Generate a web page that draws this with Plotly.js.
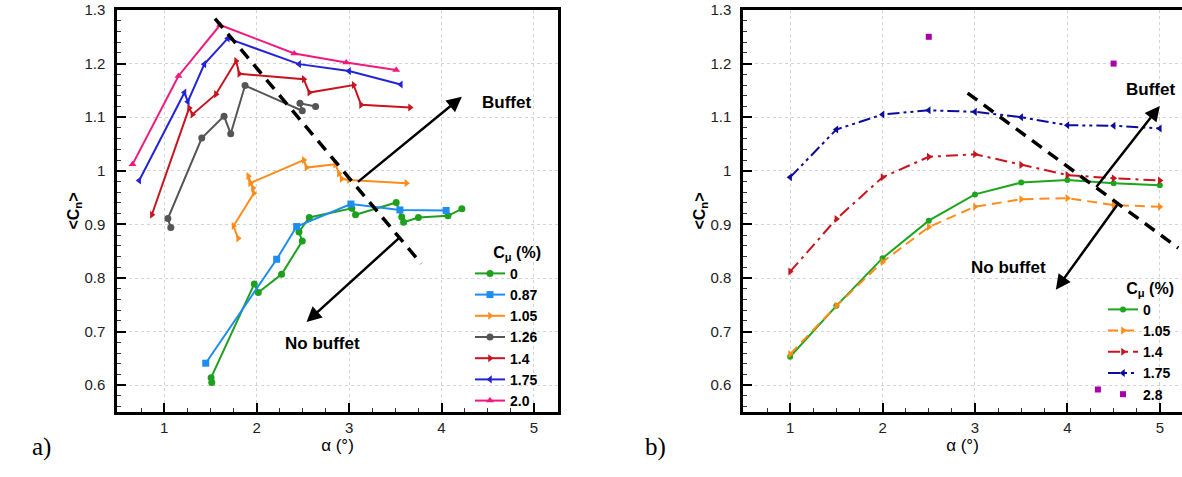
<!DOCTYPE html>
<html><head><meta charset="utf-8">
<script src="https://cdn.plot.ly/plotly-3.0.1.min.js"></script>
<style>html,body{margin:0;padding:0;background:#fff}</style>
</head><body><div id="chart" style="width:1182px;height:477px"></div>
<script>
// ---------- Panel a) ----------
const cmuA = ['0', '0.87', '1.05', '1.26', '1.4', '1.75', '2.0'];
const a0x   = [1.515, 1.508, 1.975, 2.018, 2.27, 2.494, 2.458, 2.57, 3.03, 3.07, 3.51, 3.57, 3.59, 3.75, 4.07, 4.22];
const a0y   = [0.605, 0.614, 0.789, 0.773, 0.807, 0.869, 0.886, 0.913, 0.930, 0.918, 0.941, 0.914, 0.904, 0.913, 0.916, 0.929];
const a087x = [1.45, 2.217, 2.433, 3.02, 3.55, 4.05];
const a087y = [0.641, 0.835, 0.896, 0.938, 0.927, 0.926];
const a105x = [1.80, 1.75, 1.97, 1.96, 1.91, 1.93, 2.51, 2.54, 2.85, 2.89, 2.92, 3.00, 3.62];
const a105y = [0.874, 0.897, 0.958, 0.968, 0.990, 0.977, 1.020, 1.006, 1.012, 0.995, 0.985, 0.983, 0.977];
const a126x = [1.072, 1.04, 1.407, 1.648, 1.72, 1.875, 2.494, 2.469, 2.638];
const a126y = [0.894, 0.911, 1.061, 1.102, 1.069, 1.159, 1.112, 1.126, 1.120];
const a14x  = [0.867, 1.27, 1.306, 1.56, 1.778, 1.813, 2.51, 2.57, 3.05, 3.13, 3.66];
const a14y  = [0.918, 1.117, 1.105, 1.143, 1.205, 1.181, 1.171, 1.146, 1.160, 1.123, 1.118];
const a175x = [0.73, 1.22, 1.256, 1.435, 1.688, 2.46, 3.00, 3.56];
const a175y = [0.982, 1.146, 1.129, 1.199, 1.247, 1.199, 1.186, 1.161];
const a20x  = [0.658, 1.155, 1.605, 2.407, 2.97, 3.51];
const a20y  = [1.012, 1.177, 1.272, 1.219, 1.202, 1.188];
const boundAx = [1.55, 3.78];
const boundAy = [1.284, 0.827];

// ---------- Panel b) ----------
const cmuB = ['0', '1.05', '1.4', '1.75', '2.8'];
const alphaB = [1, 1.5, 2, 2.5, 3, 3.5, 4, 4.5, 5];
const b0y   = [0.653, 0.748, 0.837, 0.907, 0.956, 0.978, 0.983, 0.977, 0.973];
const b105y = [0.658, 0.748, 0.830, 0.895, 0.933, 0.947, 0.949, 0.936, 0.933];
const b14y  = [0.812, 0.910, 0.988, 1.026, 1.031, 1.011, 0.992, 0.986, 0.982];
const b175y = [0.988, 1.077, 1.105, 1.113, 1.110, 1.100, 1.085, 1.084, 1.079];
const b28x  = [2.5, 4.5, 4.33];
const b28y  = [1.25, 1.20, 0.592];
const boundBx = [2.92, 5.2];
const boundBy = [1.145, 0.856];

const FONT = 'Liberation Sans, Arial, Helvetica, sans-serif';
const C = {g:'#1ea01e', lb:'#1e8cf0', o:'#ff8c1a', gr:'#555555', r:'#c8141e', b:'#2323d8', p:'#f0197d',
           bg:'#1ea51e', bo:'#ff8c1a', br:'#c8141e', bb:'#0c0c9c', pu:'#a800a8'};

function ser(x, y, name, color, sym, xa, ya, leg, dash, msize) {
  return {x:x, y:y, name:name, type:'scatter', mode:'lines+markers', xaxis:xa, yaxis:ya, legend:leg,
    line:{color:color, width:2, dash:dash || 'solid'},
    marker:{color:color, symbol:sym, size:msize || 7}, hoverinfo:'x+y'};
}

const traces = [
  ser(a0x, a0y, cmuA[0], C.g, 'circle', 'x', 'y', 'legend'),
  ser(a087x, a087y, cmuA[1], C.lb, 'square', 'x', 'y', 'legend'),
  ser(a105x, a105y, cmuA[2], C.o, 'triangle-right', 'x', 'y', 'legend'),
  ser(a126x, a126y, cmuA[3], C.gr, 'circle', 'x', 'y', 'legend'),
  ser(a14x, a14y, cmuA[4], C.r, 'triangle-right', 'x', 'y', 'legend'),
  ser(a175x, a175y, cmuA[5], C.b, 'triangle-left', 'x', 'y', 'legend'),
  ser(a20x, a20y, cmuA[6], C.p, 'triangle-up', 'x', 'y', 'legend'),
  {x:boundAx, y:boundAy, type:'scatter', mode:'lines', xaxis:'x', yaxis:'y', showlegend:false,
   line:{color:'#000', width:3.5, dash:'12px,8px'}, hoverinfo:'skip'},
  ser(alphaB, b0y, cmuB[0], C.bg, 'circle', 'x2', 'y2', 'legend2', 'solid', 6),
  ser(alphaB, b105y, cmuB[1], C.bo, 'triangle-right', 'x2', 'y2', 'legend2', '10px,6px', 7),
  ser(alphaB, b14y, cmuB[2], C.br, 'triangle-right', 'x2', 'y2', 'legend2', '12px,5px,3px,5px', 7),
  ser(alphaB, b175y, cmuB[3], C.bb, 'triangle-left', 'x2', 'y2', 'legend2', '12px,4px,3px,4px,3px,4px', 7),
  {x:b28x, y:b28y, name:cmuB[4], type:'scatter', mode:'markers', xaxis:'x2', yaxis:'y2', legend:'legend2',
   marker:{color:C.pu, symbol:'square', size:6}},
  {x:boundBx, y:boundBy, type:'scatter', mode:'lines', xaxis:'x2', yaxis:'y2', showlegend:false,
   line:{color:'#000', width:3.5, dash:'12px,8px'}, hoverinfo:'skip'}
];

function xax(domain, anchor) {
  return {domain:domain, anchor:anchor, range:[0.49, 5.26], dtick:1, tick0:0,
    ticks:'inside', ticklen:9, tickwidth:2, tickcolor:'#000',
    minor:{dtick:0.25, ticks:'inside', ticklen:4, tickwidth:1, tickcolor:'#333', showgrid:false},
    showline:true, linewidth:2.5, linecolor:'#000', mirror:true,
    showgrid:true, gridcolor:'#d4d4d4', griddash:'dot', gridwidth:1, zeroline:false,
    tickfont:{family:FONT, size:15, color:'#222'},
    title:{text:'α (°)', font:{family:FONT, size:17, color:'#000'}, standoff:0}};
}
function yax(domain, anchor, mirror) {
  return {domain:domain, anchor:anchor, range:[0.55, 1.3], dtick:0.1, tick0:0,
    ticks:'inside', ticklen:9, tickwidth:2, tickcolor:'#000', ticklabelstandoff:6,
    minor:{dtick:0.02, ticks:'inside', ticklen:4, tickwidth:1, tickcolor:'#333', showgrid:false},
    showline:true, linewidth:2.5, linecolor:'#000', mirror:mirror,
    showgrid:true, gridcolor:'#d4d4d4', griddash:'dot', gridwidth:1, zeroline:false,
    tickfont:{family:FONT, size:15, color:'#222'},
    title:{text:'<b>&lt;C<sub>n</sub>&gt;</b>', font:{family:FONT, size:16, color:'#000'}, standoff:0}};
}

const yDom = [1 - 412/477, 1 - 10/477];
const xa2 = xax([743/1182, 1.0], 'y2'); xa2.range = [0.49, 5.24];

function arrow(xr, yr, x, y, ax, ay) {
  return {xref:xr, yref:yr, axref:xr, ayref:yr, x:x, y:y, ax:ax, ay:ay, text:'', showarrow:true,
    arrowhead:2, arrowsize:1.2, arrowwidth:2.5, arrowcolor:'#000', standoff:0, startstandoff:0};
}
function label(xr, yr, x, y, t) {
  return {xref:xr, yref:yr, x:x, y:y, text:'<b>' + t + '</b>', showarrow:false,
    font:{family:FONT, size:17, color:'#000'}};
}

const legendBase = (x, y) => ({x:x, y:y, xanchor:'left', yanchor:'top', bgcolor:'rgba(0,0,0,0)',
  font:{family:FONT, size:14, color:'#000', weight:'bold'}, itemwidth:30, tracegroupgap:0,
  title:{text:'C<sub>μ</sub> (%)', side:'top right', font:{family:FONT, size:16, color:'#000', weight:'bold'}}});

const layout = {
  width:1182, height:477, margin:{l:0, r:0, t:0, b:0}, paper_bgcolor:'#fff', plot_bgcolor:'#fff',
  showlegend:true, hovermode:'closest',
  xaxis: xax([117/1182, 558/1182], 'y'),
  yaxis: yax(yDom, 'x', true),
  xaxis2: xa2,
  yaxis2: yax(yDom, 'x2', false),
  legend: legendBase(470/1182, 1 - 237/477),
  legend2: legendBase(1103/1182, 1 - 273/477),
  annotations: [
    arrow('x', 'y', 4.22, 1.138, 3.08, 0.977),
    arrow('x', 'y', 2.54, 0.718, 3.55, 0.876),
    label('x', 'y', 4.70, 1.128, 'Buffet'),
    label('x', 'y', 2.71, 0.677, 'No buffet'),
    arrow('x2', 'y2', 5.0, 1.121, 4.30, 0.967),
    arrow('x2', 'y2', 3.875, 0.778, 4.55, 0.939),
    label('x2', 'y2', 4.90, 1.152, 'Buffet'),
    label('x2', 'y2', 3.36, 0.82, 'No buffet'),
    {xref:'paper', yref:'paper', x:30/1182, y:1 - 463/477, text:'a)', showarrow:false,
     font:{family:'Liberation Serif, DejaVu Serif, serif', size:25, color:'#000'}},
    {xref:'paper', yref:'paper', x:655/1182, y:1 - 463/477, text:'b)', showarrow:false,
     font:{family:'Liberation Serif, DejaVu Serif, serif', size:25, color:'#000'}}
  ]
};

Plotly.newPlot('chart', traces, layout, {displayModeBar:false});
</script></body></html>
